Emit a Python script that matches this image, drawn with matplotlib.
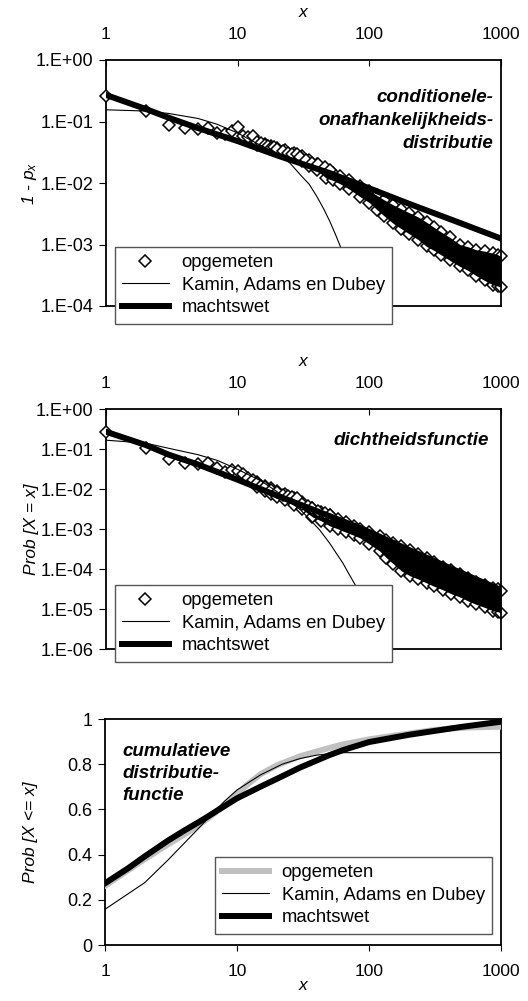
import math

import matplotlib
matplotlib.use("Agg")
import matplotlib.pyplot as plt
from matplotlib.ticker import FixedLocator, FuncFormatter, NullLocator

plt.rcParams['font.family'] = ['Liberation Sans', 'DejaVu Sans']
plt.rcParams['mathtext.fontset'] = 'custom'
plt.rcParams['mathtext.it'] = 'Liberation Sans:italic'
plt.rcParams['mathtext.rm'] = 'Liberation Sans'

LEGEND_LABELS = ["opgemeten", "Kamin, Adams en Dubey", "machtswet"]
X_TICKS = [1, 10, 100, 1000]

# ---- panel 1: conditionele-onafhankelijkheidsdistributie (1 - p_x) ----
cond_pts_x = [1, 2, 3, 4, 5, 6, 7, 8, 9, 10, 11, 12, 13, 14, 15, 16, 17, 18, 19, 20,
              22, 24, 26, 28, 30, 33, 37, 41, 46, 50]
cond_pts_y = [0.26, 0.148, 0.089, 0.077, 0.075, 0.078, 0.066, 0.062, 0.070, 0.080,
              0.058, 0.057, 0.058, 0.047, 0.045, 0.042, 0.040, 0.037, 0.038, 0.036,
              0.033, 0.031, 0.030, 0.030, 0.026, 0.024, 0.021, 0.020, 0.018, 0.016]
cond_band_x = [14, 16, 18, 20, 23, 27, 31, 35, 40, 47, 53, 60, 70, 85, 100, 114, 130, 152,
               175, 200, 235, 272, 310, 350, 410, 487, 560, 650, 750, 873, 950, 1000]
cond_band_hi = [0.047, 0.043, 0.040, 0.037, 0.034, 0.031, 0.027, 0.024, 0.020, 0.017, 0.0145,
                0.013, 0.011, 0.0088, 0.0075, 0.0063, 0.0053, 0.0044, 0.0038, 0.0033, 0.0028,
                0.0023, 0.0019, 0.0016, 0.0013, 0.0010, 9.2e-4, 8.2e-4, 7.8e-4, 7.2e-4,
                6.8e-4, 6.4e-4]
cond_band_lo = [0.042, 0.038, 0.036, 0.033, 0.030, 0.027, 0.023, 0.019, 0.016, 0.012, 0.011,
                0.0097, 0.0080, 0.0060, 0.0048, 0.0037, 0.0029, 0.0022, 0.0018, 0.0015, 0.0012,
                9.3e-4, 8.0e-4, 6.8e-4, 5.5e-4, 4.4e-4, 3.8e-4, 3.1e-4, 2.6e-4, 2.2e-4,
                2.1e-4, 2.0e-4]
cond_kad_x = [1, 2, 3, 5, 7, 10, 14, 20, 25, 30, 35, 40, 45, 50, 55, 60, 65, 70]
cond_kad_y = [0.155, 0.148, 0.135, 0.112, 0.09, 0.065, 0.044, 0.030, 0.021, 0.0135,
              0.0095, 0.0060, 0.0038, 0.0024, 0.0015, 9.5e-4, 6e-4, 4e-4]
cond_pow_x = [1, 2, 3, 5, 10, 20, 50, 100, 200, 500, 1000]
cond_pow_y = [0.27, 0.16, 0.115, 0.078, 0.048, 0.028, 0.0145, 0.0082, 0.0046, 0.0022, 0.00125]

# ---- panel 2: dichtheidsfunctie (Prob [X = x]) ----
dens_pts_x = [1, 2, 3, 4, 5, 6, 7, 8, 9, 10, 11, 12, 13, 14, 15, 16, 18, 20, 22, 24,
              26, 28, 31, 34, 37, 41, 46, 50]
dens_pts_y = [0.26, 0.105, 0.057, 0.044, 0.042, 0.044, 0.033, 0.027, 0.030, 0.029,
              0.024, 0.019, 0.017, 0.014, 0.012, 0.011, 0.0095, 0.0085, 0.0072, 0.0068,
              0.0063, 0.0058, 0.0042, 0.0038, 0.0033, 0.0029, 0.0025, 0.0022]
dens_band_x = [14, 16, 18, 20, 23, 27, 31, 37, 43, 50, 58, 67, 76, 85, 100, 120, 135, 152,
               175, 203, 235, 272, 310, 363, 420, 487, 560, 650, 750, 873, 950, 1000]
dens_band_hi = [0.015, 0.012, 0.0105, 0.009, 0.0075, 0.006, 0.0048, 0.0033, 0.0027, 0.0022,
                0.0018, 0.0015, 0.0012, 0.0010, 8.2e-4, 6.5e-4, 5.3e-4, 4.5e-4, 3.7e-4, 3.0e-4,
                2.4e-4, 1.9e-4, 1.5e-4, 1.15e-4, 9.3e-5, 7.5e-5, 6.0e-5, 4.8e-5, 4.0e-5,
                3.4e-5, 3.1e-5, 2.9e-5]
dens_band_lo = [0.011, 0.0088, 0.0075, 0.0062, 0.0052, 0.0039, 0.0031, 0.0020, 0.0016, 0.0012,
                0.0010, 8.2e-4, 7e-4, 6e-4, 4.2e-4, 2.8e-4, 1.9e-4, 1.35e-4, 9e-5, 6.8e-5,
                5.6e-5, 4.5e-5, 3.7e-5, 3.0e-5, 2.4e-5, 2.0e-5, 1.6e-5, 1.3e-5, 1.1e-5,
                9e-6, 8.5e-6, 8e-6]
dens_kad_x = [1, 2, 3, 5, 7, 10, 15, 20, 26, 30, 35, 42, 50, 56, 63, 70, 80]
dens_kad_y = [0.166, 0.14, 0.104, 0.072, 0.052, 0.031, 0.016, 0.0085, 0.0043, 0.0030,
              0.0018, 9.4e-4, 4.4e-4, 2.5e-4, 1.4e-4, 7.5e-5, 3.5e-5]
dens_pow_x = [1, 2, 3, 5, 10, 20, 50, 85, 100, 200, 500, 1000]
dens_pow_y = [0.27, 0.126, 0.072, 0.041, 0.017, 0.0068, 0.0021, 0.00106, 8.4e-4, 3.0e-4,
              7.9e-5, 3.0e-5]

# ---- panel 3: cumulatieve distributiefunctie (Prob [X <= x]) ----
cdf_meas_x = [1, 2, 3, 4, 5, 6, 7, 8, 9, 10, 12, 15, 20, 30, 50, 64, 100, 172, 300, 411, 600, 1000]
cdf_meas_y = [0.262, 0.38, 0.445, 0.49, 0.525, 0.56, 0.59, 0.615, 0.642, 0.668, 0.71,
              0.755, 0.795, 0.835, 0.872, 0.888, 0.91, 0.93, 0.95, 0.958, 0.963, 0.966]
cdf_kad_x = [1, 2, 3, 5, 7, 8, 10, 15, 22, 30, 40, 60, 1000]
cdf_kad_y = [0.158, 0.276, 0.376, 0.51, 0.60, 0.635, 0.686, 0.752, 0.80, 0.825, 0.84, 0.851, 0.851]
cdf_pow_x = [1, 1.5, 2, 3, 4, 5, 6, 7, 8, 10, 15, 20, 30, 50, 64, 100, 200, 500, 1000]
cdf_pow_y = [0.273, 0.34, 0.392, 0.462, 0.507, 0.54, 0.568, 0.593, 0.614, 0.649, 0.7, 0.735,
             0.785, 0.84, 0.863, 0.898, 0.93, 0.965, 0.988]

W, H = 528, 1001
fig = plt.figure(figsize=(W / 100, H / 100), dpi=100)


def px_rect(left, top, right, bottom):
    return [left / W, 1 - bottom / H, (right - left) / W, (bottom - top) / H]


def style_x(ax, top):
    ax.set_xscale('log')
    ax.set_xlim(1, 1000)
    ax.xaxis.set_major_locator(FixedLocator(X_TICKS))
    ax.xaxis.set_minor_locator(NullLocator())
    ax.xaxis.set_major_formatter(FuncFormatter(lambda v, p: f"{v:g}"))
    if top:
        ax.xaxis.tick_top()
        ax.xaxis.set_label_position('top')
        ax.tick_params(axis='x', direction='in', length=4, pad=13)
        ax.set_xlabel('x', fontstyle='italic', fontsize=12.5, labelpad=7)
    else:
        ax.tick_params(axis='x', direction='out', length=4, pad=10)
        ax.set_xlabel('x', fontstyle='italic', fontsize=12.5, labelpad=-1)
    ax.tick_params(axis='x', labelsize=12.5)
    for s in ax.spines.values():
        s.set_linewidth(1.3)


def legend_at(ax, left, top, handles):
    leg = ax.legend(handles, LEGEND_LABELS, loc='upper left',
                    bbox_to_anchor=(left / W, 1 - top / H), bbox_transform=fig.transFigure,
                    borderaxespad=0, fontsize=13.3, frameon=True, fancybox=False,
                    framealpha=1, edgecolor='#555555', handlelength=2.5,
                    handletextpad=0.7, labelspacing=0.3, borderpad=0.4)
    leg.get_frame().set_linewidth(1.0)
    leg.set_zorder(20)
    return leg


def log_panel(ax, pts_x, pts_y, band_x, band_lo, band_hi, kad_x, kad_y, pow_x, pow_y, ymin):
    mk = dict(linestyle='none', marker='D', ms=6.5, mfc='white', mec='black', mew=1.1, clip_on=False)
    ax.plot(band_x, band_lo, zorder=2, **mk)
    ax.plot(band_x, band_hi, zorder=2, **mk)
    ax.fill_between(band_x, band_lo, band_hi, color='black', lw=0, zorder=3)
    h1, = ax.plot(pts_x, pts_y, zorder=4, **mk)
    h2, = ax.plot(kad_x, kad_y, color='black', lw=0.8, zorder=5)
    h3, = ax.plot(pow_x, pow_y, color='black', lw=4.3, zorder=6)
    ax.set_yscale('log')
    ax.set_ylim(ymin, 1)
    ax.yaxis.set_minor_locator(NullLocator())
    ax.yaxis.set_major_formatter(FuncFormatter(lambda v, p: f"1.E{int(round(math.log10(v))):+03d}"))
    ax.tick_params(axis='y', direction='out', length=5, labelsize=13, pad=4)
    return [h1, h2, h3]


# top panel
ax1 = fig.add_axes(px_rect(106, 60, 501, 306))
hs = log_panel(ax1, cond_pts_x, cond_pts_y, cond_band_x, cond_band_lo, cond_band_hi,
               cond_kad_x, cond_kad_y, cond_pow_x, cond_pow_y, 1e-4)
style_x(ax1, top=True)
ax1.set_ylabel('1 - $p_x$', fontstyle='italic', fontsize=12.5)
ax1.text(0.98, 0.755, 'conditionele-\nonafhankelijkheids-\ndistributie', transform=ax1.transAxes,
         ha='right', va='center', fontsize=13.5, fontweight='bold', fontstyle='italic',
         linespacing=1.45)
legend_at(ax1, 115, 247, hs)

# middle panel
ax2 = fig.add_axes(px_rect(106, 409, 501, 649))
hs = log_panel(ax2, dens_pts_x, dens_pts_y, dens_band_x, dens_band_lo, dens_band_hi,
               dens_kad_x, dens_kad_y, dens_pow_x, dens_pow_y, 1e-6)
style_x(ax2, top=True)
ax2.set_ylabel('Prob [X = x]', fontstyle='italic', fontsize=12.5)
ax2.text(0.97, 0.87, 'dichtheidsfunctie', transform=ax2.transAxes, ha='right', va='center',
         fontsize=13.5, fontweight='bold', fontstyle='italic')
legend_at(ax2, 115, 585, hs)

# bottom panel
ax3 = fig.add_axes(px_rect(105, 719, 501, 945))
g1, = ax3.plot(cdf_meas_x, cdf_meas_y, color='#c0c0c0', lw=4.3, zorder=3)
g2, = ax3.plot(cdf_kad_x, cdf_kad_y, color='black', lw=0.8, zorder=5)
g3, = ax3.plot(cdf_pow_x, cdf_pow_y, color='black', lw=4.3, zorder=4)
ax3.set_ylim(0, 1)
ax3.yaxis.set_major_locator(FixedLocator([0, 0.2, 0.4, 0.6, 0.8, 1.0]))
ax3.yaxis.set_major_formatter(FuncFormatter(lambda v, p: f"{v:g}"))
ax3.tick_params(axis='y', direction='out', length=5, labelsize=13, pad=4)
style_x(ax3, top=False)
ax3.set_ylabel('Prob [X <= x]', fontstyle='italic', fontsize=12.5)
ax3.text(0.045, 0.76, 'cumulatieve\ndistributie-\nfunctie', transform=ax3.transAxes,
         ha='left', va='center', fontsize=13.5, fontweight='bold', fontstyle='italic',
         linespacing=1.4)
legend_at(ax3, 215, 857, [g1, g2, g3])

for ax in (ax1, ax2, ax3):
    ax.yaxis.set_label_coords(-0.17, 0.5)

fig.savefig('out.png', dpi=100)
